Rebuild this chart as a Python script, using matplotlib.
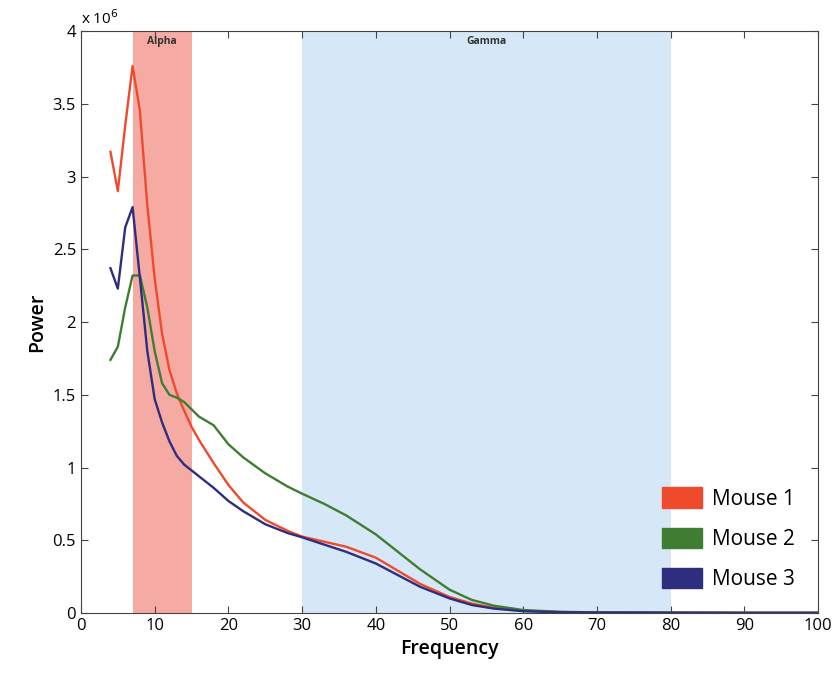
import numpy as np
import matplotlib
matplotlib.use("Agg")
import matplotlib.pyplot as plt
from matplotlib.patches import Patch
from matplotlib.ticker import FuncFormatter

plt.rcParams['font.family'] = ['Open Sans', 'DejaVu Sans']

# frequency (Hz) and power (x 10^6)
freq = [4, 5, 6, 7, 8, 9, 10, 11, 12, 13, 14, 15, 16, 18, 20, 22, 25, 28, 30,
        33, 36, 40, 43, 46, 50, 53, 56, 60, 65, 70, 80, 90, 100]
mouse1 = [3.17, 2.90, 3.35, 3.76, 3.45, 2.80, 2.30, 1.92, 1.67, 1.51, 1.39, 1.28,
          1.19, 1.03, 0.88, 0.76, 0.64, 0.565, 0.525, 0.49, 0.455, 0.38, 0.29,
          0.20, 0.11, 0.065, 0.035, 0.015, 0.006, 0.003, 0.002, 0.001, 0.001]
mouse2 = [1.74, 1.83, 2.10, 2.32, 2.32, 2.10, 1.80, 1.58, 1.50, 1.48, 1.45, 1.40,
          1.35, 1.29, 1.16, 1.07, 0.96, 0.87, 0.82, 0.75, 0.67, 0.54, 0.42,
          0.30, 0.16, 0.09, 0.05, 0.02, 0.008, 0.004, 0.002, 0.001, 0.001]
mouse3 = [2.37, 2.23, 2.65, 2.79, 2.30, 1.80, 1.47, 1.31, 1.18, 1.08, 1.02, 0.98,
          0.94, 0.86, 0.77, 0.70, 0.61, 0.55, 0.52, 0.47, 0.42, 0.34, 0.26,
          0.18, 0.10, 0.055, 0.03, 0.012, 0.005, 0.003, 0.002, 0.001, 0.001]
labels = ["Mouse 1", "Mouse 2", "Mouse 3"]
colors = ["#f04a2c", "#3f7d32", "#2e2e7e"]
bands = [("Alpha", 7, 15, "#f5aaa3"), ("Gamma", 30, 80, "#d6e8f7")]

fig = plt.figure(figsize=(8.33, 6.75), dpi=100)
ax = fig.add_axes([0.0972, 0.0919, 0.885, 0.862])

for name, lo, hi, c in bands:
    ax.axvspan(lo, hi, color=c, lw=0, zorder=0)
    ax.text((lo + hi) / 2, 3.93e6, name, ha="center", va="center",
            fontsize=7.5, fontweight="bold", color="#333333")

for vals, lab, c in zip([mouse1, mouse2, mouse3], labels, colors):
    ax.plot(freq, np.array(vals) * 1e6, color=c, lw=1.7, label=lab)

ax.set_xlim(0, 100)
ax.set_ylim(0, 4e6)
ax.set_xticks(range(0, 101, 10))
ax.set_yticks(np.arange(0, 4.01e6, 0.5e6))
ax.yaxis.set_major_formatter(FuncFormatter(lambda v, p: f"{v / 1e6:g}"))
ax.tick_params(direction="in", top=True, right=True, labelsize=12,
               color="#444444", length=5)
for s in ax.spines.values():
    s.set_color("#444444")
ax.text(0.0, 1.005, r"x 10$^6$", transform=ax.transAxes, fontsize=11,
        ha="left", va="bottom")

ax.set_xlabel("Frequency", fontsize=14, fontweight="semibold")
ax.set_ylabel("Power", fontsize=14, fontweight="semibold")

handles = [Patch(color=c, label=l) for c, l in zip(colors, labels)]
ax.legend(handles=handles, loc="lower right", frameon=False, fontsize=15,
          handlelength=1.9, handleheight=1.15, handletextpad=0.5,
          labelspacing=0.85, borderaxespad=0.7, bbox_to_anchor=(1.0, 0.0))

fig.savefig("out.png", dpi=100)
